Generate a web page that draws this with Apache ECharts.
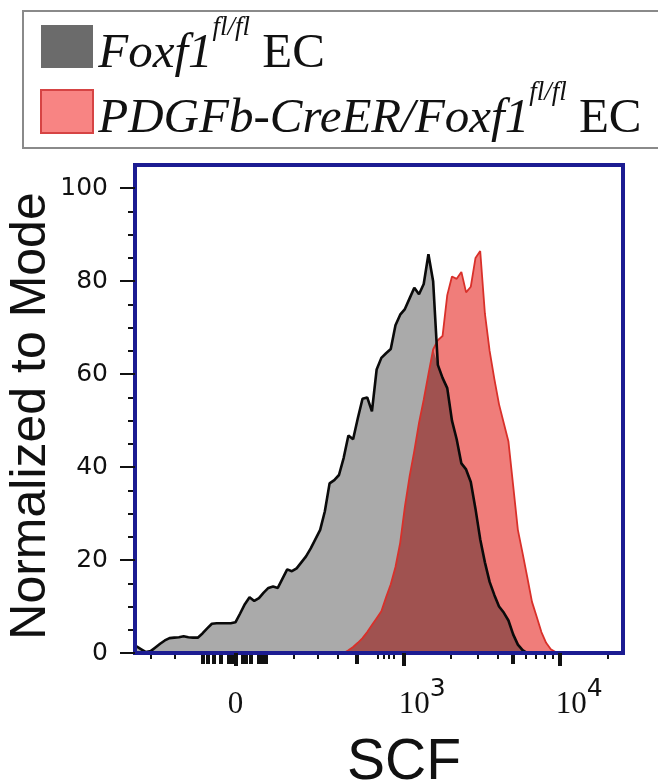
<!DOCTYPE html>
<html>
<head>
<meta charset="utf-8">
<script src="https://cdn.jsdelivr.net/npm/echarts@6/dist/echarts.min.js"></script>
<style>html,body{margin:0;padding:0;background:#fff;}#chart{width:658px;height:782px;}</style>
</head>
<body>
<div id="chart"></div>
<script>
// Bin positions on the logicle display scale (10^3 = 3, 10^4 = 4)
const binPos = [
1.30,1.33,1.36,1.39,1.42,1.45,1.48,1.51,1.54,1.57,
1.60,1.63,1.66,1.69,1.72,1.75,1.78,1.81,1.84,1.87,
1.90,1.93,1.96,1.99,2.02,2.05,2.08,2.11,2.14,2.17,
2.20,2.23,2.26,2.29,2.32,2.35,2.38,2.41,2.44,2.47,
2.50,2.53,2.56,2.59,2.62,2.65,2.68,2.71,2.74,2.77,
2.80,2.83,2.86,2.89,2.92,2.95,2.98,3.01,3.04,3.07,
3.10,3.13,3.16,3.19,3.22,3.25,3.28,3.31,3.34,3.37,
3.40,3.43,3.46,3.49,3.52,3.55,3.58,3.61,3.64,3.67,
3.70,3.73,3.76,3.79,3.82,3.85,3.88,3.91,3.94,3.97,
4.00];
// Foxf1 fl/fl EC (normalized to mode)
const foxf1 = [
1.4,0.8,0.2,0.4,1.2,2.0,2.7,3.2,3.3,3.4,
3.6,3.4,3.3,3.3,4.2,5.3,6.3,6.4,6.4,6.4,
6.4,6.6,8.5,10.5,12.0,11.2,11.8,13.0,14.0,14.3,
14.0,16.0,18.0,17.6,18.2,19.5,20.8,22.5,24.5,26.5,
30.5,36.5,37.2,38.3,42.0,46.8,46.0,50.5,54.7,55.0,
52.0,61.0,63.5,64.5,65.4,70.5,72.8,74.0,76.3,78.6,
77.2,79.4,85.8,80.0,62.0,59.2,57.0,50.0,46.0,40.8,
39.5,36.8,31.0,24.5,19.5,15.3,12.5,10.0,8.7,7.0,
4.0,1.8,0.6,0,0,0,0,0,0,0,
0];
// PDGFb-CreER/Foxf1 fl/fl EC
const pdgfb = [
0,0,0,0,0,0,0,0,0,0,
0,0,0,0,0,0,0,0,0,0,
0,0,0,0,0,0,0,0,0,0,
0,0,0,0,0,0,0,0,0,0,
0,0,0,0,0,0.6,1.3,2.2,3.2,4.5,
6.0,7.5,9.0,12.0,14.8,18.5,23.7,31.5,38.0,43.5,
49.5,54.5,60.0,65.3,67.3,68.2,77.0,81.0,80.5,82.0,
77.6,78.8,85.0,86.5,73.0,65.0,59.0,53.5,49.5,45.5,
36.0,26.5,21.5,16.3,11.0,7.8,4.5,2.2,0.8,0.2,
0];

const xLabelTicks = [1.93, 3, 4];
const xMidTicks = [1.720,1.752,1.790,1.834,1.885,1.911,1.975,1.994,2.025,2.076,2.102,2.121,2.701,3.699];
const xShortTicks = [1.389,1.541,2.299,2.452,2.580,2.834,2.873,2.904,2.936,3.301,3.477,3.602,3.778,3.845,3.903,3.954,4.301];
const yLabelTicks = [0,20,40,60,80,100];
const yMinorTicks = [5,10,15,25,30,35,45,50,55,65,70,75,85,90,95];

const nameA = 'Foxf1 fl/fl EC';
const nameB = 'PDGFb-CreER/Foxf1 fl/fl EC';

const pairs = arr => binPos.map((x, i) => [x, arr[i]]);
const overlap = foxf1.map((v, i) => Math.min(v, pdgfb[i]));

const AXIS_BLUE = '#1c1c92';
const XMIN = 1.29, XMAX = 4.40;

const legendRich = {
  h: {fontSize: 1, lineHeight: 65},
  m: {fontFamily: 'Liberation Serif', fontStyle: 'italic', fontSize: 49, lineHeight: 57, verticalAlign: 'bottom', color: '#111'},
  s: {fontFamily: 'Liberation Serif', fontStyle: 'italic', fontSize: 27, lineHeight: 42, verticalAlign: 'top', color: '#111'},
  r: {fontFamily: 'Liberation Serif', fontStyle: 'normal', fontSize: 49, lineHeight: 57, verticalAlign: 'bottom', color: '#111'}
};

function xAxisCommon(extra) {
  return Object.assign({
    type: 'value', gridIndex: 0, position: 'bottom', offset: 0,
    min: XMIN, max: XMAX, splitLine: {show: false}
  }, extra);
}

const option = {
  animation: false,
  backgroundColor: '#fff',
  grid: {left: 135, right: 35, top: 165, bottom: 129, show: true, borderColor: AXIS_BLUE, borderWidth: 4,
         containLabel: false, outerBoundsMode: 'none'},
  graphic: [{
    type: 'rect', z: 0,
    shape: {x: 23, y: 11, width: 645, height: 137},
    style: {fill: 'none', stroke: '#8a8a8a', lineWidth: 2}
  }],
  legend: {
    orient: 'vertical', left: 40, top: 14, padding: 0, itemGap: 0,
    itemWidth: 52, itemHeight: 43, icon: 'rect', selectedMode: false,
    data: [
      {name: nameA, itemStyle: {color: '#6b6b6b', borderWidth: 0}},
      {name: nameB, itemStyle: {color: '#f88483', borderColor: '#d64444', borderWidth: 2}}
    ],
    formatter: n => n === nameA ? '{h| }{m|Foxf1}{s|fl/fl}{r| EC}' : '{h| }{m|PDGFb-CreER/Foxf1}{s|fl/fl}{r| EC}',
    textStyle: {rich: legendRich}
  },
  xAxis: [
    xAxisCommon({
      z: 10,
      name: 'SCF', nameLocation: 'middle', nameGap: 82, nameMoveOverlap: false,
      nameTextStyle: {fontFamily: 'Liberation Sans', fontSize: 57, lineHeight: 57, color: '#111', padding: [0, 0, 0, 50]},
      axisLine: {show: true, onZero: false, lineStyle: {color: AXIS_BLUE, width: 4}},
      axisTick: {show: true, customValues: xLabelTicks, length: 13, lineStyle: {color: '#111', width: 4}},
      axisLabel: {
        show: true, customValues: xLabelTicks, margin: 24,
        formatter: v => Math.abs(v - 1.93) < 0.01 ? '{b|0}' : '{sp| }{b|10}{s|' + Math.round(v) + '}',
        rich: {
          b: {fontFamily: 'Liberation Serif', fontSize: 31, lineHeight: 56, color: '#111'},
          s: {fontFamily: 'DejaVu Sans', fontSize: 25, lineHeight: 25, verticalAlign: 'top', color: '#111'},
          sp: {width: 38, fontSize: 10, lineHeight: 10}
        }
      }
    }),
    xAxisCommon({
      z: 9,
      axisLine: {show: false},
      axisTick: {show: true, customValues: xMidTicks, length: 11, lineStyle: {color: '#111', width: 4}},
      axisLabel: {show: false}
    }),
    xAxisCommon({
      z: 9,
      axisLine: {show: false},
      axisTick: {show: true, customValues: xShortTicks, length: 6, lineStyle: {color: '#111', width: 2}},
      axisLabel: {show: false}
    })
  ],
  yAxis: [
    {
      type: 'value', gridIndex: 0, position: 'left', offset: 0, min: 0, max: 105, z: 10,
      name: 'Normalized to Mode', nameLocation: 'middle', nameGap: 77, nameMoveOverlap: false,
      nameTextStyle: {fontFamily: 'Liberation Sans', fontSize: 50, lineHeight: 54, color: '#111', padding: [0, 14, 0, 0]},
      splitLine: {show: false},
      axisLine: {show: true, onZero: false, lineStyle: {color: AXIS_BLUE, width: 4}},
      axisTick: {show: true, customValues: yLabelTicks, length: 15, lineStyle: {color: '#111', width: 2}},
      axisLabel: {show: true, customValues: yLabelTicks, margin: 27, fontFamily: 'DejaVu Sans', fontSize: 25, color: '#111'}
    },
    {
      type: 'value', gridIndex: 0, position: 'left', offset: 0, min: 0, max: 105, z: 9,
      splitLine: {show: false},
      axisLine: {show: false},
      axisTick: {show: true, customValues: yMinorTicks, length: 7, lineStyle: {color: '#111', width: 2}},
      axisLabel: {show: false}
    }
  ],
  series: [
    {name: nameA, type: 'line', data: pairs(foxf1), symbol: 'none', lineStyle: {width: 0}, areaStyle: {color: '#aaaaaa', opacity: 1}, color: '#6b6b6b'},
    {name: nameB, type: 'line', data: pairs(pdgfb), symbol: 'none', lineStyle: {width: 0}, areaStyle: {color: '#f07d7a', opacity: 1}, color: '#f88483'},
    {name: 'overlap', type: 'line', data: binPos.map((x, i) => [x, overlap[i]]), symbol: 'none', lineStyle: {width: 0}, areaStyle: {color: '#a05250', opacity: 1}, color: '#a05250'},
    {name: nameB, type: 'line', data: pairs(pdgfb), symbol: 'none', lineStyle: {width: 1.8, color: '#d9302a'}, color: '#f88483'},
    {name: nameA, type: 'line', data: pairs(foxf1), symbol: 'none', lineStyle: {width: 2.6, color: '#0a0a0a'}, color: '#6b6b6b'}
  ]
};

const chart = echarts.init(document.getElementById('chart'), null, {renderer: 'canvas'});
chart.setOption(option);
</script>
</body>
</html>
